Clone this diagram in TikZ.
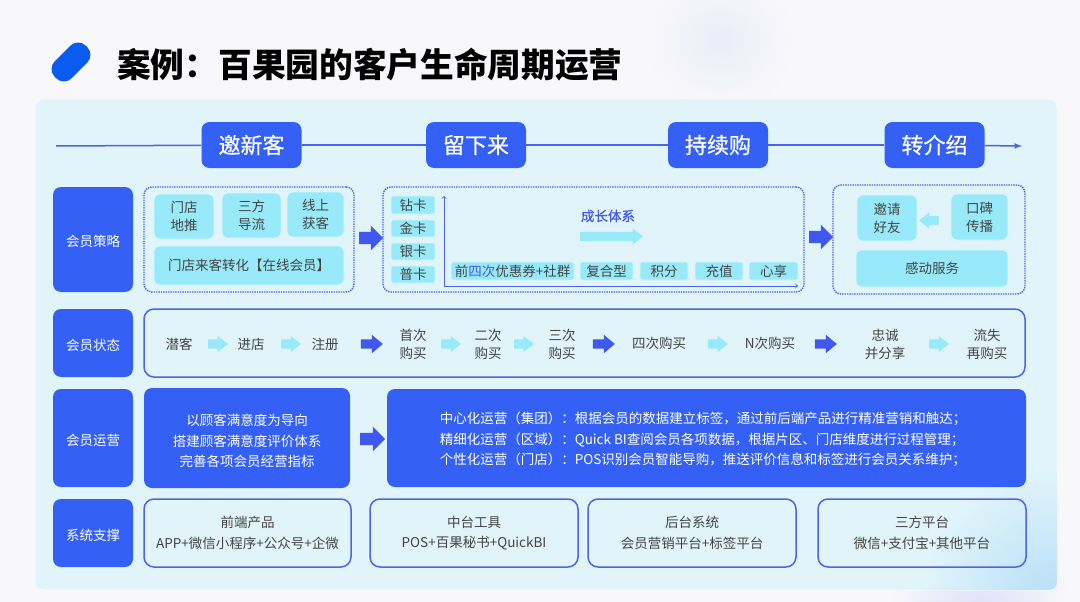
\documentclass[tikz,border=0pt]{standalone}
\usepackage{fontspec}
\setmainfont{Noto Sans CJK SC}
\newfontfamily\stagefont[FakeBold=0.5]{Noto Sans CJK SC}
\usepackage{xcolor}
\usetikzlibrary{shapes.arrows}
\definecolor{pagebg}{HTML}{F8F8FA}
\definecolor{panelbg}{HTML}{E0F4FA}
\definecolor{blobblue}{HTML}{B9DFF8}
\definecolor{pillblue}{HTML}{0B5BEF}
\definecolor{rowblue}{HTML}{3460F6}
\definecolor{lineblue}{HTML}{4A64EC}
\definecolor{arrowblue}{HTML}{4058F0}
\definecolor{chipcyan}{HTML}{98EAFA}
\definecolor{bodytext}{HTML}{444444}
\tikzset{
  body/.style={font=\fontsize{13.5}{18}\selectfont,text=bodytext,align=center,inner sep=0pt},
  rowlabel/.style={body,fill=rowblue,text=white,minimum width=80pt,rounded corners=8pt},
  rowhead/.style={rowlabel,text height=14pt,text depth=0pt},
  stagebox/.style={fill=rowblue,text=white,font=\fontsize{22}{26}\stagefont,minimum width=100pt,minimum height=46pt,rounded corners=8pt,inner sep=0pt},
  dotbox/.style={draw=lineblue,densely dotted,line width=1.4pt,rounded corners=8pt,inner sep=0pt},
  chip/.style={body,fill=chipcyan,draw=white!60!chipcyan,line width=0.8pt,rounded corners=6pt},
  card/.style={body,fill=chipcyan,draw=white!60!chipcyan,line width=0.8pt,rounded corners=2pt},
  linebox/.style={body,draw=lineblue,line width=1.5pt,rounded corners=10pt},
  twolines/.style={font=\fontsize{13.5}{20.5}\selectfont},
  arrowbase/.style={single arrow,inner sep=0pt,text width=0pt,text depth=0pt,single arrow head indent=0pt},
  bigarrow/.style={arrowbase,fill=arrowblue,text height=12pt,minimum height=24pt,single arrow head extend=6pt,single arrow tip angle=90},
  darkarrow/.style={arrowbase,fill=arrowblue,text height=9pt,minimum height=22pt,single arrow head extend=4.5pt,single arrow tip angle=80},
  lightarrow/.style={arrowbase,fill=chipcyan,text height=9pt,minimum height=20pt,single arrow head extend=3.5pt,single arrow tip angle=76}
}
\begin{document}
\begin{tikzpicture}[x=1pt,y=-1pt]
  \useasboundingbox (0,0) rectangle (1080,602);
  \fill[pagebg] (0,0) rectangle (1080,602);
  % soft patches behind the panel
  \shade[inner color=blue!5!pagebg,outer color=pagebg] (720,40) circle (75);
  \shade[inner color=blue!10!pagebg,outer color=pagebg] (980,610) circle (90);
  \node[fill=panelbg,draw=white!60!panelbg,line width=1pt,rounded corners=8pt,minimum width=1022pt,minimum height=491pt] (panel) at (546,344.5) {};
  \begin{scope}
    \clip[rounded corners=8pt] (35,99) rectangle (1057,590);
    \shade[inner color=blobblue,outer color=panelbg] (1050,595) circle (125);
  \end{scope}
  % title
  \node[fill=pillblue,minimum width=44pt,minimum height=24pt,rounded corners=11pt,rotate=45] (pill) at (71,62) {};
  \node[anchor=west,inner sep=0pt,font=\fontsize{33.7}{40}\bfseries\selectfont] (title) at (117,65) {案例：百果园的客户生命周期运营};

  % stages along the line
  \coordinate (lineL) at (56,146);
  \coordinate (lineR) at (1022,146);
  \node[stagebox] (invite) at (251.5,145) {邀新客};
  \node[stagebox] (stay) at (476,145) {留下来};
  \node[stagebox] (repeat) at (718,145) {持续购};
  \node[stagebox] (refer) at (934.5,145) {转介绍};
  \begin{scope}[lineblue,line width=1.5pt]
    \draw (lineL) -- (invite);
    \draw (invite) -- (stay);
    \draw (stay) -- (repeat);
    \draw (repeat) -- (refer);
    \draw[-latex] (refer) -- (lineR);
  \end{scope}

  % row labels
  \node[rowhead,minimum height=105pt] (rowPlan) at (93,239.5) {会员策略};
  \node[rowhead,minimum height=68pt] (rowState) at (93,343) {会员状态};
  \node[rowhead,minimum height=98pt] (rowOps) at (93,438) {会员运营};
  \node[rowhead,minimum height=68pt] (rowSys) at (93,533) {系统支撑};

  % member strategy
  \node[dotbox,minimum width=210pt,minimum height=105pt] (planA) at (249,239.5) {};
  \node[chip,minimum width=60pt,minimum height=45pt] (shopPush) at (184,216.5) {门店\\地推};
  \node[chip,minimum width=59pt,minimum height=45pt] (thirdFlow) at (251.5,215.5) {三方\\导流};
  \node[chip,minimum width=57pt,minimum height=45pt] (online) at (315.5,214.5) {线上\\获客};
  \node[chip,minimum width=190pt,minimum height=39pt] (shopConv) at (249,265.5) {门店来客转化【在线会员】};
  \node[bigarrow] (arrowA) at (368,238) {};

  \node[dotbox,minimum width=421pt,minimum height=105pt] (planB) at (593.5,239.5) {};
  \node[card,minimum width=44pt,minimum height=18pt] (diamond) at (413,205) {钻卡};
  \node[card,minimum width=44pt,minimum height=17pt] (gold) at (413,228.5) {金卡};
  \node[card,minimum width=44pt,minimum height=17pt] (silver) at (413,251.5) {银卡};
  \node[card,minimum width=44pt,minimum height=17pt] (common) at (413,274.5) {普卡};
  \coordinate (axisO) at (444,286);
  \coordinate (axisY) at (444,196);
  \coordinate (axisX) at (798,286);
  \draw[->,lineblue,line width=0.9pt] (axisO) -- (axisY);
  \draw[->,lineblue,line width=0.9pt] (axisO) -- (axisX);
  \node[card,minimum width=123pt,minimum height=18pt] (firstFour) at (512.5,271) {前{\color{arrowblue}四次}优惠券+社群};
  \node[card,minimum width=53pt,minimum height=18pt] (mixed) at (606.5,271) {复合型};
  \node[card,minimum width=48pt,minimum height=18pt] (points) at (664,271) {积分};
  \node[card,minimum width=48pt,minimum height=18pt] (charge) at (719,271) {充值};
  \node[card,minimum width=49pt,minimum height=18pt] (enjoy) at (773.5,271) {心享};
  \node[body,text=arrowblue,font=\fontsize{13.5}{18}\stagefont] (growth) at (608,216) {成长体系};
  \node[lightarrow,minimum height=63pt] (growthArrow) at (608.5,236.5) {};
  \node[bigarrow] (arrowB) at (818,237) {};

  \node[dotbox,minimum width=192pt,minimum height=109pt] (planC) at (929,239.5) {};
  \node[chip,minimum width=60pt,minimum height=46pt] (friend) at (887,218) {邀请\\好友};
  \node[chip,minimum width=57pt,minimum height=46pt] (mouth) at (979.5,217) {口碑\\传播};
  \node[lightarrow,shape border rotate=180] (friendArrow) at (932,220.5) {};
  \node[chip,minimum width=152pt,minimum height=37pt] (service) at (932,268.5) {感动服务};

  % member state
  \node[linebox,minimum width=881pt,minimum height=68pt] (stateBox) at (584.5,343) {};
  \node[body] (s1) at (179,344) {潜客};
  \node[lightarrow] (a1) at (215,344) {};
  \node[body] (s2) at (251,344) {进店};
  \node[lightarrow] (a2) at (288,344) {};
  \node[body] (s3) at (325,344) {注册};
  \node[darkarrow] (a3) at (369,344) {};
  \node[body] (s4) at (413,344) {首次\\购买};
  \node[lightarrow] (a4) at (448,344) {};
  \node[body] (s5) at (488,344) {二次\\购买};
  \node[lightarrow] (a5) at (521,344) {};
  \node[body] (s6) at (562,344) {三次\\购买};
  \node[darkarrow] (a6) at (601,344) {};
  \node[body] (s7) at (659,343) {四次购买};
  \node[lightarrow] (a7) at (715,344) {};
  \node[body] (s8) at (770,343) {N次购买};
  \node[darkarrow] (a8) at (823,344) {};
  \node[body] (s9) at (885,344) {忠诚\\并分享};
  \node[lightarrow] (a9) at (936,344) {};
  \node[body] (s10) at (987,344) {流失\\再购买};

  % member operations
  \node[rowlabel,minimum width=206pt,minimum height=100pt] (opsGoal) at (247,438) {};
  \node[body,text=white,twolines] (opsGoalText) at (247,441) {以顾客满意度为导向\\搭建顾客满意度评价体系\\完善各项会员经营指标};
  \node[bigarrow,minimum height=25pt] (arrowOps) at (369.5,439) {};
  \node[rowlabel,minimum width=639pt,minimum height=98pt] (opsBox) at (706.5,438) {};
  \node[body,text=white,align=left,twolines] (opsText) at (703,439.5) {中心化运营（集团）：根据会员的数据建立标签，通过前后端产品进行精准营销和触达；\\精细化运营（区域）：Quick BI查阅会员各项数据，根据片区、门店维度进行过程管理；\\个性化运营（门店）：POS识别会员智能导购，推送评价信息和标签进行会员关系维护；};

  % system support
  \node[linebox,twolines,minimum width=207pt,minimum height=68pt] (front) at (247.5,533) {前端产品\\APP+微信小程序+公众号+企微};
  \node[linebox,twolines,minimum width=208pt,minimum height=68pt] (middle) at (474,533) {中台工具\\POS+百果秘书+QuickBI};
  \node[linebox,twolines,minimum width=208pt,minimum height=68pt] (back) at (692,533) {后台系统\\会员营销平台+标签平台};
  \node[linebox,twolines,minimum width=208pt,minimum height=68pt] (third) at (922,533) {三方平台\\微信+支付宝+其他平台};
\end{tikzpicture}
\end{document}
